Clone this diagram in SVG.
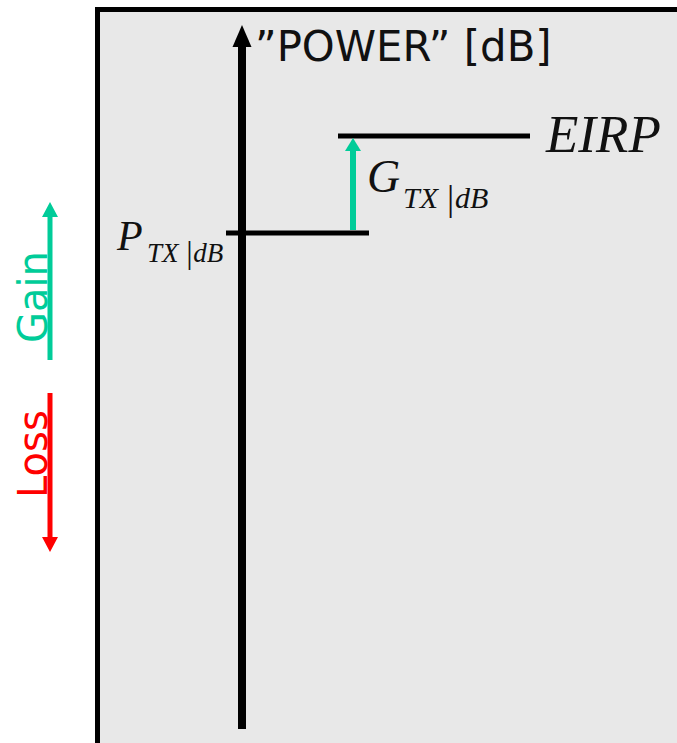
<svg xmlns="http://www.w3.org/2000/svg" width="677" height="743" viewBox="0 0 677 743">
<style>
.lvl{stroke:#000;stroke-width:5;fill:none}
.sans{font-family:"DejaVu Sans",sans-serif}
.math{font-family:"Liberation Serif","Times New Roman",serif;font-style:italic;fill:#111}
</style>
<rect x="0" y="0" width="677" height="743" fill="#fff"/>
<g id="frame"><rect x="97.5" y="9.5" width="600" height="736" fill="#e8e8e8" stroke="#000" stroke-width="5"/></g>
<g id="axis">
<line x1="242" y1="729" x2="242" y2="44" stroke="#000" stroke-width="8"/>
<polygon points="242,25 232.5,47 251.5,47" fill="#000"/>
<text class="sans" x="255" y="61" font-size="41.8" fill="#111">”POWER” [dB]</text>
</g>
<g id="ptx">
<line class="lvl" x1="226" y1="233" x2="369" y2="233"/>
<text class="math" x="117" y="250" font-size="42">P</text>
<text class="math" x="147" y="262" font-size="27">TX<tspan dx="6" font-size="32" dy="1">|</tspan><tspan dy="-1">dB</tspan></text>
</g>
<g id="eirp">
<line class="lvl" x1="338" y1="136" x2="530" y2="136"/>
<text class="math" x="546" y="152" font-size="53">EIRP</text>
</g>
<g id="connectors">
<line x1="353" y1="230" x2="353" y2="148" stroke="#00cc99" stroke-width="6"/>
<polygon points="353,138 345,151 361,151" fill="#00cc99"/>
</g>
<g id="gtx">
<text class="math" x="367" y="192" font-size="46">G</text>
<text class="math" x="403" y="208" font-size="30">TX<tspan dx="7" font-size="36" dy="2">|</tspan><tspan dy="-2">dB</tspan></text>
</g>
<g id="gain">
<line x1="50" y1="360" x2="50" y2="214" stroke="#00cc99" stroke-width="5"/>
<polygon points="50,202 42,217 58,217" fill="#00cc99"/>
<text class="sans" transform="translate(47,343) rotate(-90)" font-size="40" fill="#00cc99">Gain</text>
</g>
<g id="loss">
<line x1="50" y1="393" x2="50" y2="540" stroke="#ff0000" stroke-width="5"/>
<polygon points="50,552 42,537 58,537" fill="#ff0000"/>
<text class="sans" transform="translate(47,498) rotate(-90)" font-size="40" fill="#ff0000">Loss</text>
</g>
</svg>
